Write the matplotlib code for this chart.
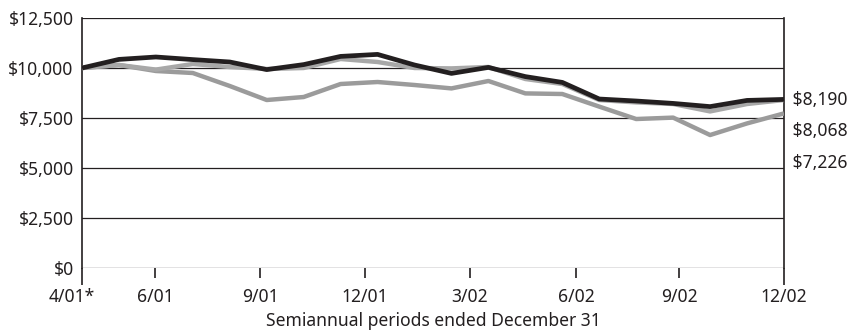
import numpy as np
import matplotlib
matplotlib.use("Agg")
import matplotlib.pyplot as plt
from matplotlib.transforms import ScaledTranslation

plt.rcParams['font.family'] = ['Noto Sans', 'DejaVu Sans']

# monthly points, 4/01 through 12/02
fund = [10000, 10430, 10550, 10420, 10300, 9920, 10170, 10580, 10680, 10150,
        9730, 10030, 9570, 9280, 8450, 8350, 8230, 8070, 8380, 8430]
index_a = [10000, 10150, 9920, 10200, 10050, 9950, 10000, 10450, 10300, 10000,
           9980, 10050, 9450, 9200, 8400, 8280, 8200, 7830, 8200, 8400]
index_b = [10000, 10150, 9850, 9750, 9100, 8400, 8550, 9200, 9300, 9150,
           8980, 9350, 8730, 8700, 8070, 7450, 7520, 6650, 7230, 7730]

tick_pos = [0, 1.98, 4.82, 7.66, 10.5, 13.37, 16.16, 19]
tick_labels = ["4/01*", "6/01", "9/01", "12/01", "3/02", "6/02", "9/02", "12/02"]
y_ticks = [0, 2500, 5000, 7500, 10000, 12500]
end_labels = ["$8,190", "$8,068", "$7,226"]
end_label_y = [8400, 6850, 5250]

x = np.arange(len(fund))
fs = 12.6
ink = '#231f20'

fig = plt.figure(figsize=(8.47, 3.33), dpi=100)
ax = fig.add_axes([0.0968, 0.195, 0.8288, 0.751])

ax.plot(x, index_b, color='#9b9b9b', lw=3.2, solid_capstyle='butt', zorder=3)
ax.plot(x, index_a, color='#a8a8a8', lw=3.2, solid_capstyle='butt', zorder=4)
ax.plot(x, fund, color=ink, lw=3.4, solid_capstyle='butt', zorder=5)

ax.set_xlim(0, 19)
ax.set_ylim(0, 12500)
ax.set_yticks(y_ticks)
ax.set_yticklabels(["${:,}".format(v) for v in y_ticks], fontsize=fs, color=ink)
ax.tick_params(axis='y', length=0, pad=6)
for v in y_ticks:
    ax.axhline(v, color=ink, lw=0.9, zorder=2)

# end ticks are longer than the inner ones
ax.set_xticks([tick_pos[0], tick_pos[-1]])
ax.set_xticklabels([tick_labels[0], tick_labels[-1]], fontsize=fs, color=ink)
ax.set_xticks(tick_pos[1:-1], minor=True)
ax.set_xticklabels(tick_labels[1:-1], minor=True, fontsize=fs, color=ink)
ax.tick_params(axis='x', which='major', length=12, width=1.2, pad=2, color=ink)
ax.tick_params(axis='x', which='minor', length=7, width=1.2, pad=7.5, color=ink)
first = ax.get_xticklabels()[0]
first.set_transform(first.get_transform() + ScaledTranslation(-10 / 100, 0, fig.dpi_scale_trans))

for s in ['top', 'bottom']:
    ax.spines[s].set_visible(False)
for s in ['left', 'right']:
    ax.spines[s].set_linewidth(1.2)
    ax.spines[s].set_color(ink)

ax.set_xlabel("Semiannual periods ended December 31", fontsize=fs, color=ink, labelpad=4)

for lab, yv in zip(end_labels, end_label_y):
    ax.text(19.1, yv, " " + lab, ha='left', va='center', fontsize=fs, color=ink,
            clip_on=False)

fig.savefig("out.png", dpi=100)
